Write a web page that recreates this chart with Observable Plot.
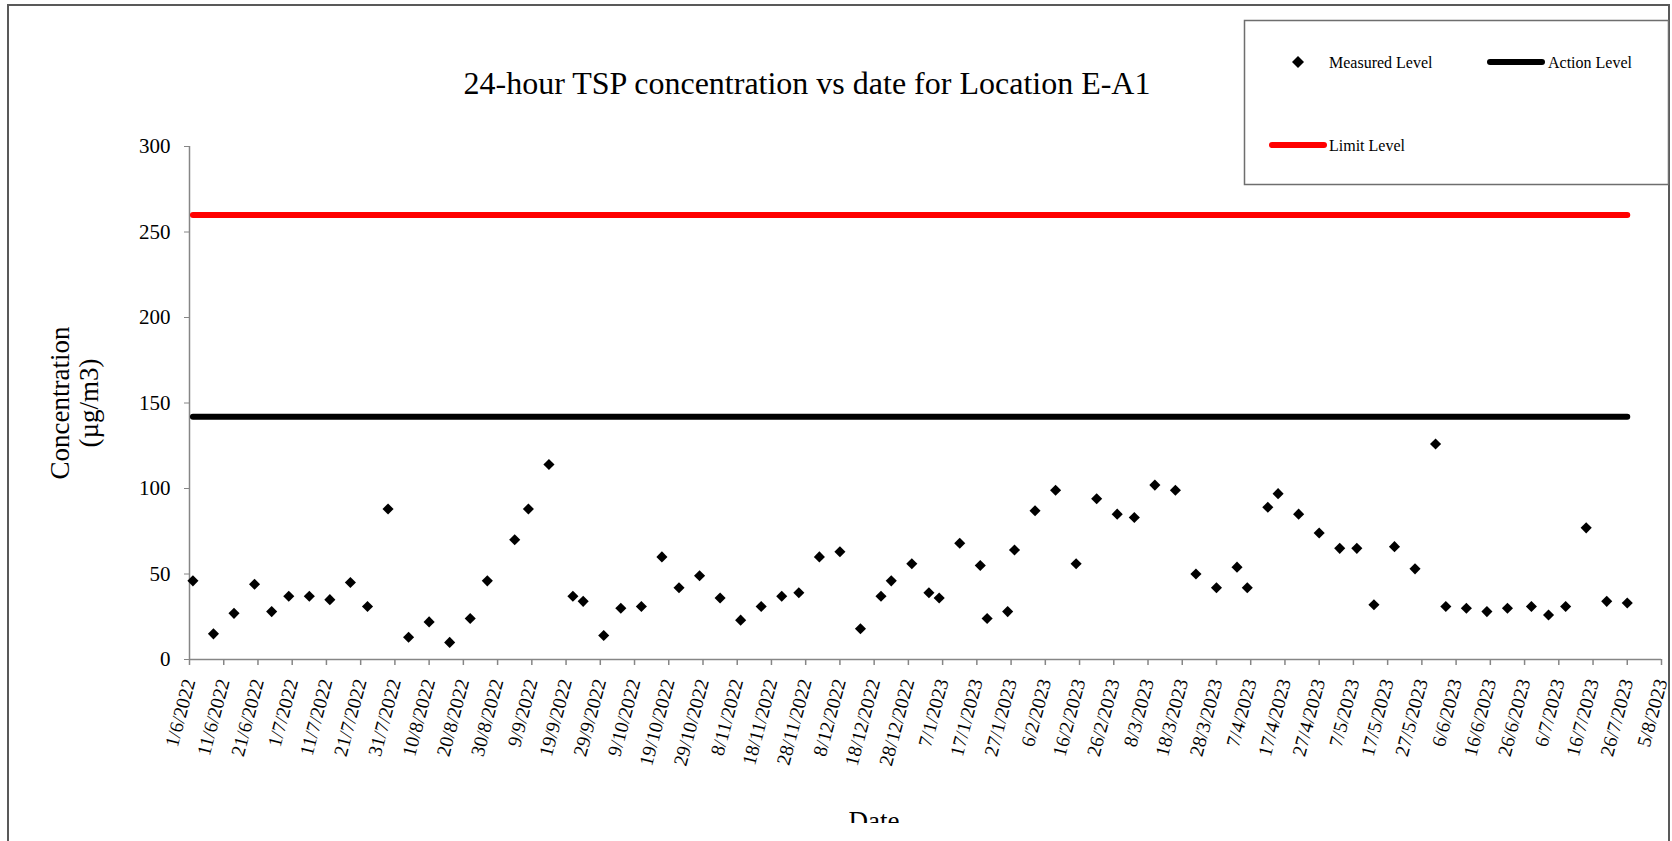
<!DOCTYPE html>
<html>
<head>
<meta charset="utf-8">
<script src="https://cdn.jsdelivr.net/npm/d3@7"></script>
<script src="https://cdn.jsdelivr.net/npm/@observablehq/plot@0.6"></script>
<style>
html, body { margin: 0; padding: 0; background: #fff; overflow: hidden; }
#wrap { position: relative; width: 1672px; height: 841px; overflow: hidden; font-family: "Liberation Serif", "Times New Roman", serif; }
#frame { position: absolute; left: 7px; top: 4px; width: 1663px; height: 900px; border: 2px solid #595959; box-sizing: border-box; }
#clip { position: absolute; left: 0; top: 0; width: 1672px; height: 823px; overflow: hidden; }
#clip svg { position: absolute; left: 0; top: 0; }
#overlay { position: absolute; left: 0; top: 0; pointer-events: none; }
</style>
</head>
<body>
<div id="wrap">
  <div id="frame"></div>
  <div id="clip"></div>
</div>
<script>
// ---- data ----
const measuredDates = [
  "2022-06-02","2022-06-08","2022-06-14","2022-06-20","2022-06-25","2022-06-30",
  "2022-07-06","2022-07-12","2022-07-18","2022-07-23","2022-07-29",
  "2022-08-04","2022-08-10","2022-08-16","2022-08-22","2022-08-27",
  "2022-09-04","2022-09-08","2022-09-14","2022-09-21","2022-09-24","2022-09-30",
  "2022-10-05","2022-10-11","2022-10-17","2022-10-22","2022-10-28",
  "2022-11-03","2022-11-09","2022-11-15","2022-11-21","2022-11-26",
  "2022-12-02","2022-12-08","2022-12-14","2022-12-20","2022-12-23","2022-12-29",
  "2023-01-03","2023-01-06","2023-01-12","2023-01-18","2023-01-20","2023-01-26","2023-01-28",
  "2023-02-03","2023-02-09","2023-02-15","2023-02-21","2023-02-27",
  "2023-03-04","2023-03-10","2023-03-16","2023-03-22","2023-03-28",
  "2023-04-03","2023-04-06","2023-04-12","2023-04-15","2023-04-21","2023-04-27",
  "2023-05-03","2023-05-08","2023-05-13","2023-05-19","2023-05-25","2023-05-31",
  "2023-06-03","2023-06-09","2023-06-15","2023-06-21","2023-06-28",
  "2023-07-03","2023-07-08","2023-07-14","2023-07-20","2023-07-26"
];
const measuredValues = [
  46, 15, 27, 44, 28, 37,
  37, 35, 45, 31, 88,
  13, 22, 10, 24, 46,
  70, 88, 114, 37, 34, 14,
  30, 31, 60, 42, 49,
  36, 23, 31, 37, 39,
  60, 63, 18, 37, 46, 56,
  39, 36, 68, 55, 24, 28, 64,
  87, 99, 56, 94, 85,
  83, 102, 99, 50, 42,
  54, 42, 89, 97, 85, 74,
  65, 65, 32, 66, 53, 126,
  31, 30, 28, 30, 31,
  26, 31, 77, 34, 33
];
const actionLevel = 142;
const limitLevel = 260;
const xTickLabels = [
  "1/6/2022","11/6/2022","21/6/2022","1/7/2022","11/7/2022","21/7/2022","31/7/2022",
  "10/8/2022","20/8/2022","30/8/2022","9/9/2022","19/9/2022","29/9/2022","9/10/2022",
  "19/10/2022","29/10/2022","8/11/2022","18/11/2022","28/11/2022","8/12/2022","18/12/2022",
  "28/12/2022","7/1/2023","17/1/2023","27/1/2023","6/2/2023","16/2/2023","26/2/2023",
  "8/3/2023","18/3/2023","28/3/2023","7/4/2023","17/4/2023","27/4/2023","7/5/2023",
  "17/5/2023","27/5/2023","6/6/2023","16/6/2023","26/6/2023","6/7/2023","16/7/2023",
  "26/7/2023","5/8/2023"
];
const yTicks = [0, 50, 100, 150, 200, 250, 300];
const titleText = "24-hour TSP concentration vs date for Location E-A1";
const yTitleLines = ["Concentration", "(\u00b5g/m3)"];
const xTitle = "Date";
const legendLabels = ["Measured Level", "Action Level", "Limit Level"];

// ---- build ----
const serif = '"Liberation Serif", "Times New Roman", serif';
const parseTick = d3.utcParse("%d/%m/%Y");
const tickDates = xTickLabels.map(parseTick);
const tickRows = tickDates.map((d, i) => ({date: d, label: xTickLabels[i]}));
const measured = measuredDates.map((d, i) => ({date: new Date(d + "T00:00:00Z"), value: measuredValues[i]}));
const firstDate = measured[0].date, lastDate = measured[measured.length - 1].date;
const actionData = [{date: firstDate, value: actionLevel}, {date: lastDate, value: actionLevel}];
const limitData = [{date: firstDate, value: limitLevel}, {date: lastDate, value: limitLevel}];

const axisGray = "#868686";
const chart = Plot.plot({
  width: 1672,
  height: 823,
  marginLeft: 189,
  marginRight: 11,
  marginTop: 146,
  marginBottom: 164,
  style: {fontFamily: serif, fontSize: "21px", color: "#000", background: "transparent", overflow: "visible"},
  x: {type: "utc", domain: [tickDates[0], tickDates[tickDates.length - 1]]},
  y: {domain: [0, 300]},
  marks: [
    Plot.ruleY([0], {stroke: axisGray, strokeWidth: 1.5}),
    Plot.ruleX([tickDates[0]], {y1: 0, y2: 300, stroke: axisGray, strokeWidth: 1.5}),
    Plot.axisY({ticks: yTicks, tickSize: 5, tickPadding: 14, stroke: axisGray, label: null, fontSize: 21, fontFamily: serif, tickFormat: d => String(d)}),
    Plot.axisX({ticks: tickDates, tickSize: 6, stroke: axisGray, strokeWidth: 1.5, label: null, tickFormat: () => ""}),
    Plot.text(tickRows, {x: "date", text: "label", frameAnchor: "bottom", dy: 20, rotate: -75, textAnchor: "end", lineAnchor: "middle", fontSize: 19.5, fontFamily: serif, fill: "#000"}),
    Plot.lineY(limitData, {x: "date", y: "value", stroke: "#ff0000", strokeWidth: 6, strokeLinecap: "round"}),
    Plot.lineY(actionData, {x: "date", y: "value", stroke: "#000", strokeWidth: 6, strokeLinecap: "round"}),
    Plot.dot(measured, {x: "date", y: "value", symbol: "diamond2", r: 5, fill: "#000", stroke: "none"})
  ]
});
document.getElementById("clip").appendChild(chart);

// ---- overlay: title, axis titles, legend ----
const ov = d3.select("#clip").append("svg")
  .attr("id", "overlay").attr("width", 1672).attr("height", 823)
  .style("font-family", serif);

ov.append("text").attr("x", 807).attr("y", 94).attr("text-anchor", "middle")
  .attr("font-size", 32).attr("fill", "#000").text(titleText);

ov.append("text").attr("transform", "translate(69,403) rotate(-90)").attr("text-anchor", "middle")
  .attr("font-size", 27).attr("fill", "#000").text(yTitleLines[0]);
ov.append("text").attr("transform", "translate(98,403) rotate(-90)").attr("text-anchor", "middle")
  .attr("font-size", 27).attr("fill", "#000").text(yTitleLines[1]);

ov.append("text").attr("x", 874).attr("y", 830).attr("text-anchor", "middle")
  .attr("font-size", 27).attr("fill", "#000").text(xTitle);

// legend
const lg = ov.append("g");
lg.append("rect").attr("x", 1244.5).attr("y", 20.5).attr("width", 424).attr("height", 164)
  .attr("fill", "#fff").attr("stroke", "#6e6e6e").attr("stroke-width", 1.5);
lg.append("path").attr("d", "M1298,56L1304,62L1298,68L1292,62Z").attr("fill", "#000");
lg.append("text").attr("x", 1329).attr("y", 62).attr("dy", "0.35em").attr("font-size", 16).text(legendLabels[0]);
lg.append("line").attr("x1", 1490).attr("x2", 1542).attr("y1", 62).attr("y2", 62)
  .attr("stroke", "#000").attr("stroke-width", 6).attr("stroke-linecap", "round");
lg.append("text").attr("x", 1548).attr("y", 62).attr("dy", "0.35em").attr("font-size", 16).text(legendLabels[1]);
lg.append("line").attr("x1", 1272).attr("x2", 1324).attr("y1", 145).attr("y2", 145)
  .attr("stroke", "#ff0000").attr("stroke-width", 6).attr("stroke-linecap", "round");
lg.append("text").attr("x", 1329).attr("y", 145).attr("dy", "0.35em").attr("font-size", 16).text(legendLabels[2]);
</script>
</body>
</html>
